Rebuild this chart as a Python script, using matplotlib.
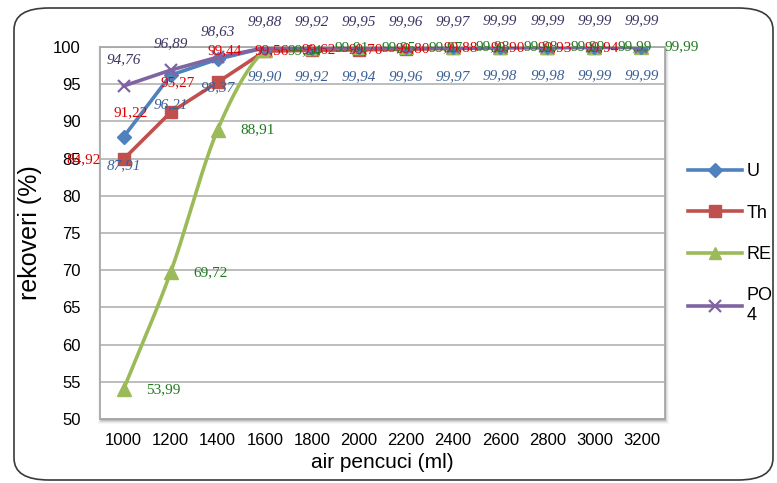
import numpy as np
import matplotlib
matplotlib.use("Agg")
import matplotlib.pyplot as plt
from matplotlib.patches import FancyBboxPatch, Rectangle

categories = ["1000", "1200", "1400", "1600", "1800", "2000", "2200", "2400", "2600", "2800", "3000", "3200"]
u_vals = [87.91, 96.21, 98.37, 99.90, 99.92, 99.94, 99.96, 99.97, 99.98, 99.98, 99.99, 99.99]
th_vals = [84.92, 91.22, 95.27, 99.44, 99.56, 99.62, 99.70, 99.80, 99.88, 99.90, 99.93, 99.94]
re_vals = [53.99, 69.72, 88.91, 99.54, 99.91, 99.95, 99.97, 99.98, 99.98, 99.99, 99.99, 99.99]
po4_vals = [94.76, 96.89, 98.63, 99.88, 99.92, 99.95, 99.96, 99.97, 99.99, 99.99, 99.99, 99.99]
y_ticks = [50, 55, 60, 65, 70, 75, 80, 85, 90, 95, 100]

W, H = 777, 483
fig = plt.figure(figsize=(W / 100, H / 100), dpi=100)
fig.patch.set_facecolor("white")

# outer rounded border
fig.patches.append(FancyBboxPatch((14 / W, 3 / H), 759 / W, 472 / H,
                                  boxstyle="round,pad=0,rounding_size=0.045",
                                  transform=fig.transFigure, fill=False,
                                  edgecolor="#3a3a3a", linewidth=1.2, zorder=-5))

l, r, t, b = 100, 665, 47, 419
pos = [l / W, (H - b) / H, (r - l) / W, (b - t) / H]
# drop shadow
for i, a in enumerate([0.12, 0.08, 0.05, 0.03]):
    off = 1 + i
    fig.patches.append(Rectangle(((l - off + 2) / W, (H - b - off - 1) / H), (r - l + 2 * off - 2) / W,
                                 (b - t + 2 * off - 2) / H,
                                 transform=fig.transFigure, facecolor="#000000", alpha=a,
                                 edgecolor="none", zorder=-3))
ax = fig.add_axes(pos)
ax.set_zorder(2)
ax.set_facecolor("white")
x = np.arange(len(categories))
ax.set_xlim(-0.5, len(categories) - 0.5)
ax.set_ylim(50, 100)
ax.set_yticks(y_ticks)
ax.set_xticks(x)
ax.set_xticklabels(categories)
ax.yaxis.grid(True, color="#b8b8b8", linewidth=1.3)
ax.set_axisbelow(True)
for s in ax.spines.values():
    s.set_color("#a8a8a8")
    s.set_linewidth(1.3)
ax.tick_params(axis="both", length=0, labelsize=12, colors="black")
ax.tick_params(axis="y", pad=14)
ax.tick_params(axis="x", pad=10)
for lab in ax.get_xticklabels() + ax.get_yticklabels():
    lab.set_fontfamily("Liberation Sans")
ax.set_xlabel("air pencuci (ml)", fontsize=15, fontfamily="Liberation Sans", labelpad=4)
ax.set_ylabel("rekoveri (%)", fontsize=18, fontfamily="Liberation Sans", labelpad=8)


def catmull(xs, ys, n=20):
    xs = np.asarray(xs, float)
    ys = np.asarray(ys, float)
    px = np.concatenate([[2 * xs[0] - xs[1]], xs, [2 * xs[-1] - xs[-2]]])
    py = np.concatenate([[2 * ys[0] - ys[1]], ys, [2 * ys[-1] - ys[-2]]])
    ox, oy = [], []
    for i in range(1, len(px) - 2):
        tt = np.linspace(0, 1, n, endpoint=False)
        for arr, out in ((px, ox), (py, oy)):
            p0, p1, p2, p3 = arr[i - 1], arr[i], arr[i + 1], arr[i + 2]
            out.extend(0.5 * ((2 * p1) + (-p0 + p2) * tt + (2 * p0 - 5 * p1 + 4 * p2 - p3) * tt ** 2
                              + (-p0 + 3 * p1 - 3 * p2 + p3) * tt ** 3))
    ox.append(xs[-1]); oy.append(ys[-1])
    return np.array(ox), np.array(oy)


c_u, c_th, c_re, c_po = "#4F81BD", "#C0504D", "#9BBB59", "#8064A2"
lw = 2.6
hu, = ax.plot(x, u_vals, color=c_u, lw=lw, marker="D", ms=7, zorder=4, label="U")
hth, = ax.plot(x, th_vals, color=c_th, lw=lw, marker="s", ms=9, zorder=3, label="Th")
sx, sy = catmull(x, re_vals)
ax.plot(sx, sy, color=c_re, lw=lw, zorder=3)
ax.plot(x, re_vals, color=c_re, lw=0, marker="^", ms=10, zorder=3)
hre, = ax.plot([], [], color=c_re, lw=lw, marker="^", ms=8, label="RE")
hpo, = ax.plot(x, po4_vals, color=c_po, lw=lw, marker="x", ms=8, mew=1.6, zorder=5, label="PO\n4")

fmt = lambda v: f"{v:.2f}".replace(".", ",")
for xi, v in zip(x, u_vals):
    ax.annotate(fmt(v), (xi, v), xytext=(0, -29), textcoords="offset pixels", ha="center", va="center",
                fontsize=11, color="#3a5f96", fontfamily="Liberation Serif", style="italic", zorder=6)
for xi, v in zip(x, th_vals):
    ax.annotate(fmt(v), (xi, v), xytext=(-40, 0), textcoords="offset pixels", ha="center", va="center",
                fontsize=11, color="#e00000", fontfamily="Liberation Serif", zorder=6,
                annotation_clip=False)
for xi, v in zip(x, re_vals):
    ax.annotate(fmt(v), (xi, v), xytext=(40, 0), textcoords="offset pixels", ha="center", va="center",
                fontsize=11, color="#1e7a1e", fontfamily="Liberation Serif", zorder=6,
                annotation_clip=False)
for xi, v in zip(x, po4_vals):
    ax.annotate(fmt(v), (xi, v), xytext=(0, 26), textcoords="offset pixels", ha="center", va="center",
                fontsize=11, color="#3d3362", fontfamily="Liberation Serif", style="italic", zorder=6,
                annotation_clip=False)

leg = fig.legend(handles=[hu, hth, hre, hpo], loc="upper left", bbox_to_anchor=(672 / W, 1 - 147 / H),
                 frameon=False, handlelength=3.0, handletextpad=0.25, labelspacing=1.35,
                 prop={"family": "Liberation Sans", "size": 13})

fig.savefig("out.png", dpi=100, facecolor="white")
